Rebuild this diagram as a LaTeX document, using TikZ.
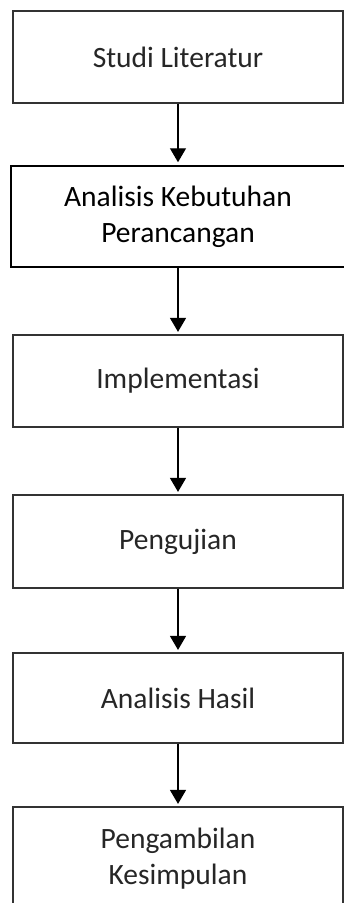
\documentclass[tikz,border=0pt]{standalone}
\usepackage{fontspec}
\setmainfont{Carlito}
\usetikzlibrary{arrows.meta}
\begin{document}
\begin{tikzpicture}[x=1pt,y=-1pt,
  flowbox/.style={draw=black!80, line width=1.2pt, minimum width=330pt, inner sep=0pt,
    align=center, font=\fontsize{29.5}{36}\selectfont, text=black!85},
  flowarrow/.style={-{Triangle[width=16pt,length=14pt]}, line width=1.3pt, shorten >=2.5pt}]
\useasboundingbox (0,0) rectangle (344,903);
\clip (0,0) rectangle (344,903);
\node[flowbox, minimum height=92pt] (s1) at (178,57) {Studi Literatur};
\node[flowbox, draw=black, text=black, line width=2.5pt, minimum width=334pt, minimum height=101pt] (s2) at (178,216.5) {Analisis Kebutuhan\\Perancangan};
\node[flowbox, minimum height=92pt] (s3) at (178,381) {Implementasi};
\node[flowbox, minimum height=93pt] (s4) at (178,541.5) {Pengujian};
\node[flowbox, minimum height=90pt] (s5) at (178,698) {Analisis Hasil};
\node[flowbox, minimum height=104pt] (s6) at (178,859) {Pengambilan\\Kesimpulan};
\draw[flowarrow] (s1.south) -- (s2.north);
\draw[flowarrow] (s2.south) -- (s3.north);
\draw[flowarrow] (s3.south) -- (s4.north);
\draw[flowarrow] (s4.south) -- (s5.north);
\draw[flowarrow] (s5.south) -- (s6.north);
\end{tikzpicture}
\end{document}
